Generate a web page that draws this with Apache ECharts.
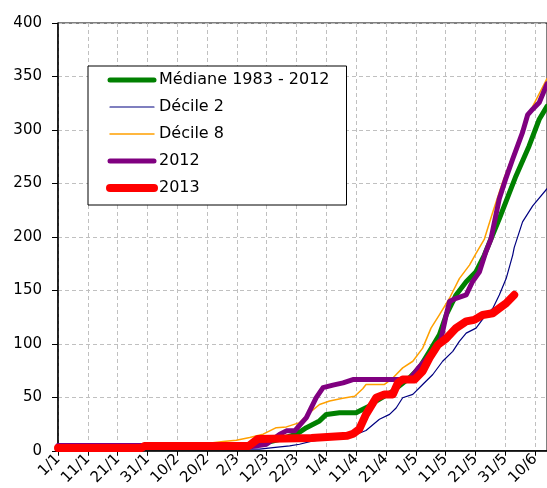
<!DOCTYPE html>
<html><head><meta charset="utf-8">
<script src="https://cdn.jsdelivr.net/npm/echarts@6/dist/echarts.min.js"></script>
<style>html,body{margin:0;padding:0;background:#fff}#c{width:547px;height:488px}</style>
</head><body><div id="c"></div>
<script>
// day index from 1 January (0 = 1/1) and cumulative value
var seriesNames = ['Médiane 1983 - 2012', 'Décile 2', 'Décile 8', '2012', '2013'];
var yTicks = [0, 50, 100, 150, 200, 250, 300, 350, 400];

var median = [[0,3],[45,4],[55,5],[60,5.5],[64.9,6],[69.9,7.7],[74.4,10.8],[80,15.5],[83.3,21.6],[87.7,27.9],[90,34],[94.4,35.6],[100,35.6],[101.1,37.2],[104.5,41.9],[106.7,46.5],[112.3,55.8],[117.9,68.2],[121.2,77.5],[124.6,93],[127.9,108.5],[130.2,127],[133.5,145.7],[136.9,158],[140.2,167.4],[143,183],[145.2,198],[148,217],[153.6,257],[158,285],[161.4,310],[164,322]];

var decile2 = [[0,1.5],[60,1.5],[67.6,1.5],[72.1,3],[77.7,4.6],[81,6.1],[85.5,9.3],[90,10.8],[94.4,11.7],[98.9,14],[103.3,19],[107.8,29.4],[111.2,34],[113.4,40],[115.6,49.6],[119,52.7],[122.3,62],[125.7,71.3],[129,83.7],[132.4,93],[134.6,102.3],[136.9,110],[140.2,114.7],[143.5,127],[145.8,133],[148,145.7],[150.3,161],[152.5,183],[153,190],[155.8,214],[159.2,229],[164,245]];

var decile8 = [[0,3],[30,4],[40.9,5],[49.8,6.8],[55.4,8.6],[59.8,9.9],[64.3,12.4],[68.8,15.5],[73.2,21.6],[76.6,22.3],[81,26.3],[84.4,35.6],[87.7,43.3],[91.1,46.5],[95.5,49],[99.5,51],[102.2,58],[103.3,62],[109.5,62],[112.3,68],[115.6,77.5],[119,83.7],[122.3,96],[125.1,114.7],[127.9,127],[131.3,142.6],[134.6,161],[138,173.6],[140.2,184.5],[143,198],[145.8,223],[149.1,251],[152.5,276],[155.8,300],[159.2,322],[164,348]];

var y2012 = [[0,5],[28,5],[64,4.5],[65,4],[69.9,6],[74.4,15.5],[76.6,18.6],[79.4,18.6],[83.3,31],[86.6,49.6],[88.9,59],[92.2,61.4],[95.6,63.5],[98.9,66.6],[117.9,66.6],[120.7,77],[122.9,83.7],[125.7,93],[128.5,105],[130.2,127],[131.3,139.5],[133.5,142.6],[136.9,145.7],[139,158],[141.3,167],[143.5,186],[145.2,198],[148,235.6],[150,253],[152.5,272.8],[155.8,297.7],[157.5,314],[159.2,319.4],[161.4,325.6],[164,343]];

var y2013 = [[0,2.5],[28,2.5],[29,4.5],[64,4.5],[67,11],[85,12],[97,14],[99,16],[101,20],[103.3,34],[106.7,49.6],[109.5,52.7],[112.3,52.7],[114,63.5],[115.6,66.6],[119.6,66.6],[122.3,74.4],[124.6,86.8],[127.4,99],[130.2,105],[133.5,114.7],[136.9,121],[139.6,122.4],[142.4,127],[145.8,128.6],[148,133.3],[150.3,138],[153,145.7]];

var colors = ['#008000', '#000080', '#FFA000', '#800080', '#FF0000'];
var widths = [5, 1.2, 1.5, 5, 8];

var FONT = 'DejaVu Sans';
function dayLabel(v) {
  if (v % 10 !== 0) return '';
  var d = new Date(Date.UTC(2013, 0, 1 + v));
  return d.getUTCDate() + '/' + (d.getUTCMonth() + 1);
}
function mk(i, data) {
  return {
    name: seriesNames[i], type: 'line', data: data, symbol: 'none', z: 2 + i,
    lineStyle: { color: colors[i], width: widths[i], cap: 'round', join: 'round' },
    itemStyle: { color: colors[i] }
  };
}
var chart = echarts.init(document.getElementById('c'), null, { renderer: 'canvas' });
chart.setOption({
  animation: false,
  backgroundColor: '#ffffff',
  grid: { left: 58, right: 0, top: 23, bottom: 35, show: true, borderColor: '#000', borderWidth: 1, backgroundColor: 'transparent' },
  legend: {
    data: seriesNames.map(function (n, i) {
      return { name: n, lineStyle: { color: colors[i], width: widths[i], cap: 'round' }, itemStyle: { opacity: 0 } };
    }),
    orient: 'vertical', left: 88, top: 66,
    itemWidth: 44, itemHeight: 18, itemGap: 11,
    padding: [6, 17, 9, 18],
    backgroundColor: '#fff', borderColor: '#000', borderWidth: 1,
    itemStyle: { opacity: 0 },
    textStyle: { fontFamily: FONT, fontSize: 16, color: '#000' }
  },
  xAxis: {
    type: 'value', min: 0, max: 164, interval: 10,
    axisLine: { lineStyle: { color: '#000', width: 1.5 } },
    axisTick: { show: true, length: 5, lineStyle: { color: '#000' } },
    axisLabel: { rotate: 45, fontFamily: FONT, fontSize: 15, color: '#000', margin: 6, formatter: dayLabel, showMaxLabel: false },
    splitLine: { show: true, lineStyle: { color: '#c0c0c0', type: [4, 3] } }
  },
  yAxis: {
    type: 'value', min: yTicks[0], max: yTicks[yTicks.length - 1], interval: 50,
    axisLine: { show: true, lineStyle: { color: '#000', width: 1.5 } },
    axisTick: { show: true, length: 6, lineStyle: { color: '#000' } },
    axisLabel: { fontFamily: FONT, fontSize: 15, color: '#000', margin: 16 },
    splitLine: { show: true, lineStyle: { color: '#c0c0c0', type: [4, 3] } }
  },
  series: [
    mk(0, median),
    mk(1, decile2),
    mk(2, decile8),
    mk(3, y2012),
    mk(4, y2013)
  ]
});
</script></body></html>
